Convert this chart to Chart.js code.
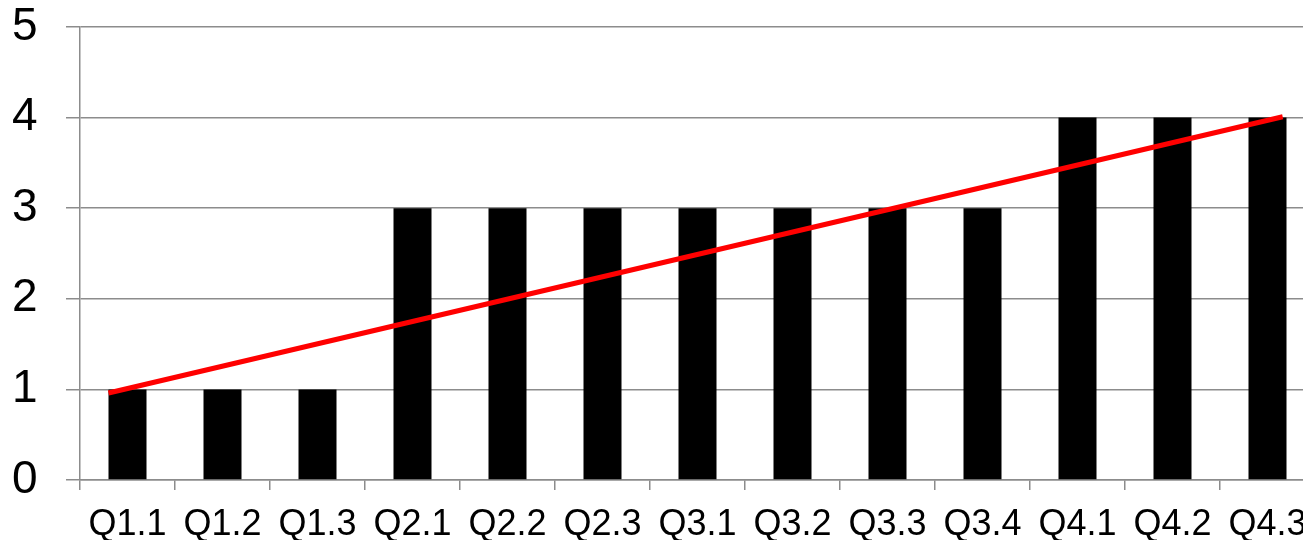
<!DOCTYPE html>
<html lang="en">
	<head>
		<meta charset="UTF-8" />
		<title>Quarterly Scores</title>
		<script src="https://cdn.jsdelivr.net/npm/chart.js"></script>
		<style>
			html, body { margin: 0; padding: 0; background: #fff; overflow: hidden; }
			#wrap { width: 1320px; height: 540px; }
		</style>
	</head>
	<body>
		<div id="wrap">
			<canvas id="myChart" width="1320" height="540"></canvas>
		</div>

		<script>
			const categories = ["Q1.1", "Q1.2", "Q1.3", "Q2.1", "Q2.2", "Q2.3", "Q3.1", "Q3.2", "Q3.3", "Q3.4", "Q4.1", "Q4.2", "Q4.3"];
			const scores = [1, 1, 1, 3, 3, 3, 3, 3, 3, 3, 4, 4, 4];
			// trend line end points, x in category index units
			const trendX = [-0.2, 12.16];
			const trendY = [0.96, 4.01];
			const yTicks = [0, 1, 2, 3, 4, 5];

			const gridColor = "#8c8c8c";
			const ctx = document.getElementById("myChart").getContext("2d");
			const myChart = new Chart(ctx, {
				type: "bar",
				data: {
					labels: categories,
					datasets: [
						{
							data: scores,
							backgroundColor: "#000000",
							barPercentage: 0.4,
							categoryPercentage: 1,
							grouped: false,
							order: 1,
						},
						{
							type: "line",
							data: trendX.map((x, i) => ({ x: x, y: trendY[i] })),
							xAxisID: "xt",
							borderColor: "#ff0000",
							borderWidth: 5,
							pointRadius: 0,
							fill: false,
							order: 0,
						},
					],
				},
				options: {
					responsive: false,
					animation: false,
					layout: { padding: { top: 0, right: 5, left: 12, bottom: 0 } },
					plugins: { legend: { display: false }, tooltip: { enabled: false } },
					scales: {
						x: {
							afterFit: (s) => { s.height = 60; },
							grid: {
								drawOnChartArea: false,
								color: gridColor,
								tickLength: 10,
								lineWidth: 1.5,
							},
							border: { color: gridColor, width: 1.5 },
							ticks: {
								color: "#000",
								font: { family: "Liberation Sans", size: 36 },
								padding: 13,
								maxRotation: 0,
								autoSkip: false,
							},
						},
						xt: {
							type: "linear",
							display: false,
							offset: false,
							grid: { offset: false },
							min: -0.5,
							max: 12.5,
						},
						y: {
							min: 0,
							max: 5,
							afterBuildTicks: (s) => { s.ticks = yTicks.map((v) => ({ value: v })); },
							afterFit: (s) => { s.width = 68; },
							grid: {
								color: gridColor,
								tickLength: 14,
								lineWidth: 1.5,
							},
							border: { color: gridColor, width: 1.5 },
							ticks: {
								color: "#000",
								font: { family: "Liberation Sans", size: 46, lineHeight: 1.174 },
								padding: 0,
								crossAlign: "far",
							},
						},
					},
				},
			});
		</script>
	</body>
</html>
